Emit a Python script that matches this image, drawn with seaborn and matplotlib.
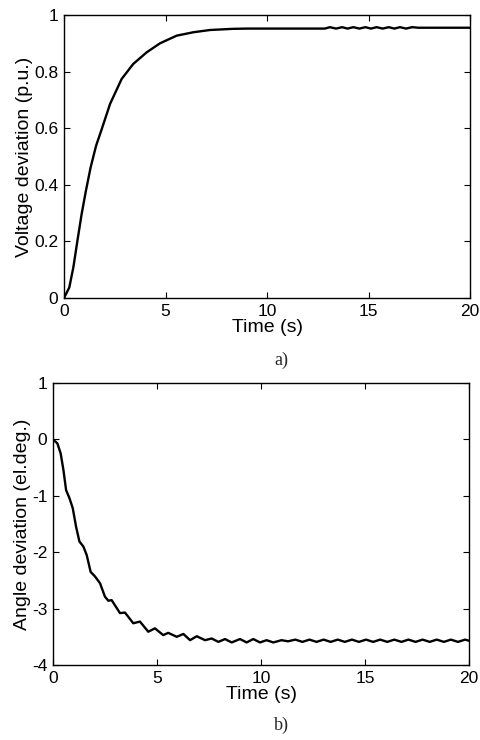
import matplotlib
matplotlib.use("Agg")
import matplotlib.pyplot as plt
import pandas as pd
import seaborn as sns

# --- data ---
time_v = [0.0, 0.26, 0.46, 0.66, 0.87, 1.08, 1.31, 1.58, 1.86, 2.27, 2.84, 3.41,
          4.07, 4.73, 5.55, 6.37, 7.19, 8.3, 9.0, 10.0, 11.0, 12.0, 12.85,
          13.1, 13.4, 13.7, 13.97, 14.25, 14.55, 14.85, 15.12, 15.4, 15.7, 16.0,
          16.27, 16.55, 16.85, 17.15, 17.45, 18.5, 20.0]
voltage = [0.0, 0.037, 0.108, 0.202, 0.297, 0.379, 0.461, 0.538, 0.597, 0.686, 0.774, 0.827,
           0.868, 0.900, 0.927, 0.939, 0.947, 0.951, 0.952, 0.952, 0.952, 0.952, 0.952,
           0.957, 0.952, 0.957, 0.952, 0.957, 0.952, 0.957, 0.952, 0.957, 0.952, 0.957,
           0.952, 0.957, 0.952, 0.957, 0.955, 0.955, 0.955]

time_a = [0.0, 0.21, 0.37, 0.5, 0.63, 0.79, 0.95, 1.11, 1.27, 1.46, 1.62, 1.81, 2.02,
          2.26, 2.5, 2.66, 2.82, 3.22, 3.46, 3.86, 4.18, 4.58, 4.9, 5.3, 5.54, 5.95,
          6.27, 6.59, 6.91, 7.31, 7.63, 7.95, 8.27, 8.59, 8.99, 9.31, 9.63, 9.95,
          10.27, 10.59, 10.99, 11.3, 11.65, 11.99, 12.33, 12.67, 13.01, 13.35, 13.69,
          14.03, 14.37, 14.71, 15.05, 15.39, 15.73, 16.07, 16.41, 16.75, 17.09, 17.43,
          17.77, 18.11, 18.45, 18.79, 19.13, 19.47, 19.81, 20.0]
angle = [0.0, -0.07, -0.25, -0.54, -0.90, -1.04, -1.22, -1.55, -1.81, -1.90, -2.05, -2.35, -2.43,
         -2.55, -2.79, -2.86, -2.85, -3.08, -3.07, -3.26, -3.23, -3.41, -3.35, -3.47, -3.43, -3.50,
         -3.45, -3.56, -3.49, -3.56, -3.53, -3.59, -3.54, -3.60, -3.54, -3.60, -3.54, -3.60,
         -3.56, -3.60, -3.56, -3.58, -3.55, -3.59, -3.55, -3.59, -3.55, -3.59, -3.55,
         -3.59, -3.55, -3.59, -3.55, -3.59, -3.55, -3.59, -3.55, -3.59, -3.55, -3.59,
         -3.55, -3.59, -3.55, -3.59, -3.55, -3.59, -3.55, -3.57]

x_ticks = [0, 5, 10, 15, 20]
v_ticks = [0, 0.2, 0.4, 0.6, 0.8, 1]
v_tick_labels = ["0", "0.2", "0.4", "0.6", "0.8", "1"]
a_ticks = [-4, -3, -2, -1, 0, 1]
a_tick_labels = ["-4", "-3", "-2", "-1", "0", "1"]

sns.set_theme(style="white")
plt.rcParams["font.family"] = ["Liberation Sans", "DejaVu Sans"]
plt.rcParams["axes.unicode_minus"] = False


def style_axis(ax):
    for side in ax.spines.values():
        side.set_color("black")
        side.set_linewidth(1.0)
    ax.tick_params(direction="in", length=4, width=0.8, colors="black",
                   labelsize=12.5, top=True, right=True, bottom=True, left=True, pad=4)
    ax.set_xlim(0, 20)
    ax.set_xticks(x_ticks)
    ax.set_xticklabels([str(t) for t in x_ticks])


fig = plt.figure(figsize=(4.8, 7.4), dpi=100)
ax_v = fig.add_axes([64 / 480, 1 - 298 / 740, 406 / 480, 283 / 740])
ax_a = fig.add_axes([53 / 480, 1 - 665 / 740, 416 / 480, 282 / 740])

df_v = pd.DataFrame({"t": time_v, "v": voltage})
sns.lineplot(data=df_v, x="t", y="v", ax=ax_v, color="black", linewidth=1.7,
             sort=False, estimator=None)
style_axis(ax_v)
ax_v.set_ylim(0, 1)
ax_v.set_yticks(v_ticks)
ax_v.set_yticklabels(v_tick_labels)
ax_v.set_xlabel("Time (s)", fontsize=14, color="black", labelpad=0)
ax_v.set_ylabel("Voltage deviation (p.u.)", fontsize=14, color="black")
ax_v.yaxis.set_label_coords(-0.076, 0.5)

df_a = pd.DataFrame({"t": time_a, "a": angle})
sns.lineplot(data=df_a, x="t", y="a", ax=ax_a, color="black", linewidth=1.7,
             sort=False, estimator=None)
style_axis(ax_a)
ax_a.set_ylim(-4, 1)
ax_a.set_yticks(a_ticks)
ax_a.set_yticklabels(a_tick_labels)
ax_a.set_xlabel("Time (s)", fontsize=14, color="black", labelpad=0)
ax_a.set_ylabel("Angle deviation (el.deg.)", fontsize=14, color="black")
ax_a.yaxis.set_label_coords(-0.054, 0.5)

fig.text(281 / 480, 1 - 360 / 740, "a)", family=["Liberation Serif", "DejaVu Serif"],
         fontsize=13, ha="center", va="center")
fig.text(281 / 480, 1 - 725 / 740, "b)", family=["Liberation Serif", "DejaVu Serif"],
         fontsize=13, ha="center", va="center")

fig.savefig("out.png", dpi=100)
plt.close(fig)
